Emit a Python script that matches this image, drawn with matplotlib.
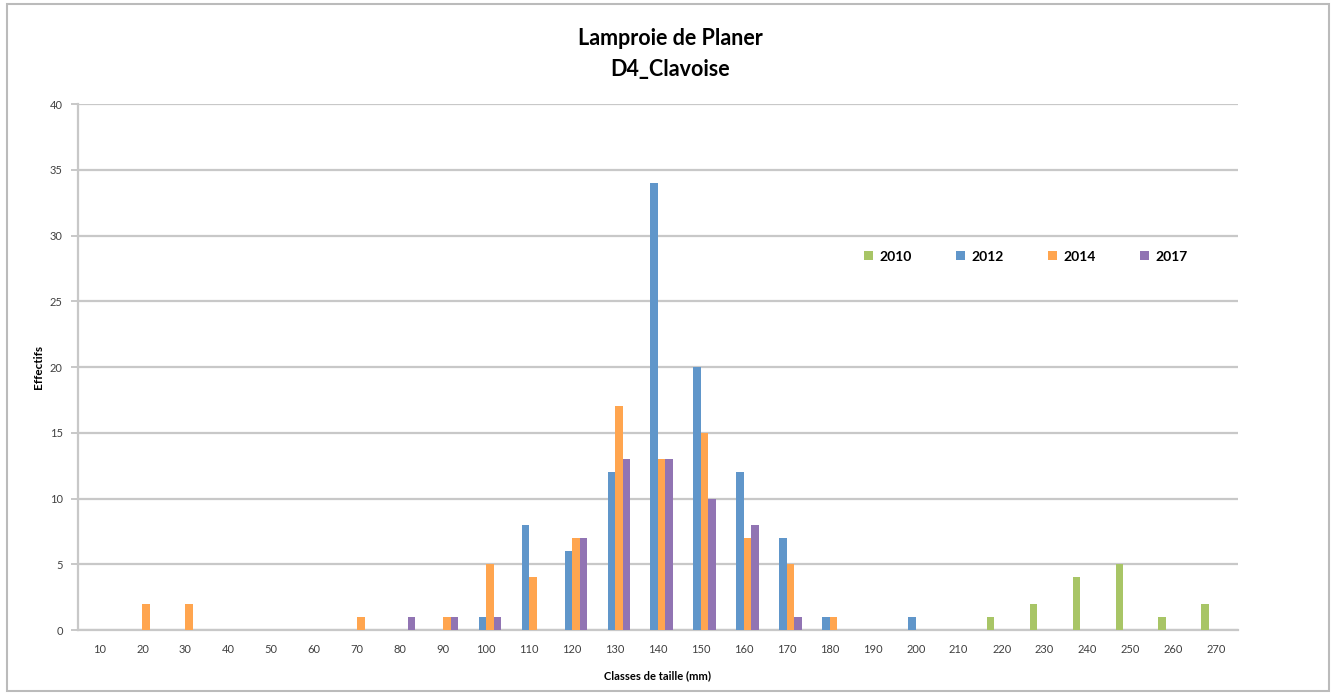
import matplotlib
matplotlib.use("Agg")
import matplotlib.pyplot as plt
import numpy as np
from matplotlib.patches import Rectangle

categories = [str(v) for v in range(10, 280, 10)]
years = ["2010", "2012", "2014", "2017"]
v2010 = [0,0,0,0,0,0,0,0,0,0,0,0,0,0,0,0,0,0,0,0,0,1,2,4,5,1,2]
v2012 = [0,0,0,0,0,0,0,0,0,1,8,6,12,34,20,12,7,1,0,1,0,0,0,0,0,0,0]
v2014 = [0,2,2,0,0,0,1,0,1,5,4,7,17,13,15,7,5,1,0,0,0,0,0,0,0,0,0]
v2017 = [0,0,0,0,0,0,0,1,1,1,0,7,13,13,10,8,1,0,0,0,0,0,0,0,0,0,0]
series = [v2010, v2012, v2014, v2017]
colors = ["#A8C566", "#6096CA", "#FFA54F", "#9174B3"]

plt.rcParams['font.family'] = ['Lato', 'DejaVu Sans']
fig = plt.figure(figsize=(13.36, 6.94), dpi=100)
ax = fig.add_axes([0.0584, 0.0922, 0.8682, 0.7579])

x = np.arange(len(categories))
bw = 0.175
for i, (vals, c, y) in enumerate(zip(series, colors, years)):
    ax.bar(x + (i - 1.5) * bw, vals, width=bw, color=c, label=y, zorder=3)

ax.set_xlim(-0.5, len(categories) - 0.5)
ax.set_ylim(0, 40)
ax.set_yticks(range(0, 41, 5))
ax.set_xticks(x)
ax.set_xticklabels(categories)
ax.grid(axis='y', color='#C8C8C8', linewidth=1.6, zorder=0)
for s in ['top', 'right']:
    ax.spines[s].set_visible(False)
for s in ['left', 'bottom']:
    ax.spines[s].set_color('#C8C8C8')
    ax.spines[s].set_linewidth(1.6)
ax.tick_params(axis='y', length=5, color='#C8C8C8', width=1.4, labelsize=8, labelcolor='#404040', pad=6)
ax.tick_params(axis='x', length=0, labelsize=8, labelcolor='#404040', pad=10)

ax.set_ylabel("Effectifs", fontsize=8.5, fontweight='bold', labelpad=4)
ax.set_xlabel("Classes de taille (mm)", fontsize=8, fontweight='bold', labelpad=11)

fig.text(0.5015, 0.945, "Lamproie de Planer", ha='center', va='center', fontsize=15.5, fontweight='bold')
fig.text(0.5015, 0.900, "D4_Clavoise", ha='center', va='center', fontsize=15.5, fontweight='bold')

leg = ax.legend(loc='center left', bbox_to_anchor=(0.667, 0.71), ncol=4, frameon=False,
                handlelength=0.6, handleheight=0.6, columnspacing=3.2, handletextpad=0.5,
                prop={'size': 10, 'weight': 'bold'})

fig.patches.append(Rectangle((0.005, 0.004), 0.99, 0.99, transform=fig.transFigure,
                             fill=False, edgecolor='#BBBBBB', linewidth=1.5))

fig.savefig("out.png", dpi=100, facecolor='white')
